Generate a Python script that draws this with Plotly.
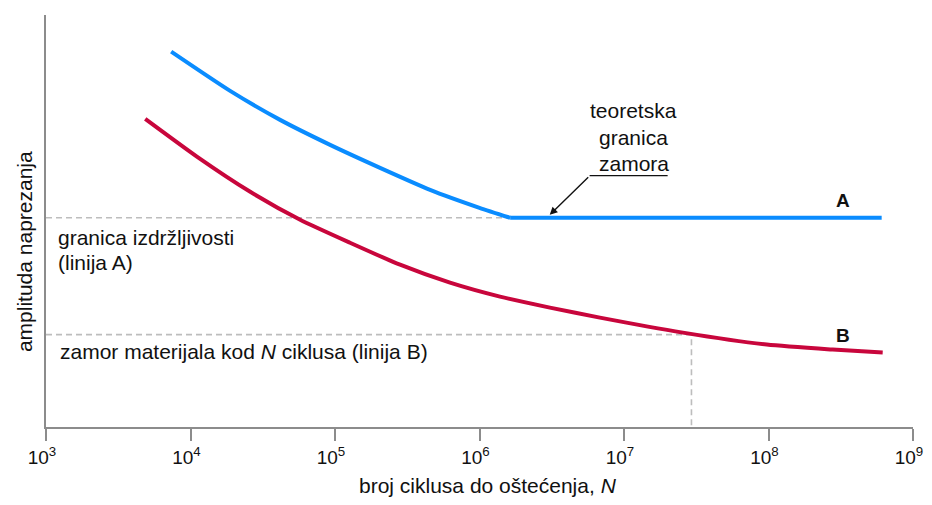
import plotly.graph_objects as go

# Line A (blue): S-N curve with endurance limit (knee at index 7)
blue_N = [7.35e3, 1.88e4, 4.17e4, 9.25e4, 2.05e5, 4.55e5, 1.0e6, 1.63e6, 6.07e8]
blue_amp = [375.8, 336.5, 307.5, 282.5, 259.5, 237.5, 219.5, 209.5, 209.5]

# Line B (red): S-N curve without endurance limit
red_N = [4.86e3, 1.113e4, 2.59e4, 5.74e4, 1.27e5, 2.82e5, 6.25e5, 1.386e6, 3.07e6,
         6.81e6, 2.555e7, 9.73e7, 2.78e8, 6.17e8]
red_amp = [308.5, 270.5, 235.5, 207.5, 184.5, 162.5, 144.5, 130.5, 119.5,
           109.5, 94.5, 82.5, 77.5, 74.5]

endurance_limit = 209.5
knee_N = 1.63e6
fatigue_strength_B = 92.5
N_B = 2.93e7

tick_vals = [1e3, 1e4, 1e5, 1e6, 1e7, 1e8, 1e9]
tick_text = ["10<sup>3</sup>", "10<sup>4</sup>", "10<sup>5</sup>", "10<sup>6</sup>",
             "10<sup>7</sup>", "10<sup>8</sup>", "10<sup>9</sup>"]

BLUE = "#0A8CFF"
RED = "#C8063C"
GRAY = "#BDBDBD"
AXIS = "#8C8C8C"
TXT = "#111111"
FONT = "Liberation Sans, Arial, sans-serif"
FS = 21

fig = go.Figure()

# dashed reference lines
fig.add_trace(go.Scatter(x=[1e3, knee_N], y=[endurance_limit, endurance_limit],
                         mode="lines", line=dict(color=GRAY, width=1.6, dash="6px,4px"),
                         hoverinfo="skip", showlegend=False))
fig.add_trace(go.Scatter(x=[1e3, N_B, N_B], y=[fatigue_strength_B, fatigue_strength_B, 0],
                         mode="lines", line=dict(color=GRAY, width=1.6, dash="6px,4px"),
                         hoverinfo="skip", showlegend=False))

# curves
fig.add_trace(go.Scatter(x=blue_N[:8], y=blue_amp[:8], mode="lines",
                         line=dict(color=BLUE, width=4, shape="spline", smoothing=0.6),
                         showlegend=False))
fig.add_trace(go.Scatter(x=blue_N[7:], y=blue_amp[7:], mode="lines",
                         line=dict(color=BLUE, width=4), showlegend=False))
fig.add_trace(go.Scatter(x=red_N, y=red_amp, mode="lines",
                         line=dict(color=RED, width=4, shape="spline", smoothing=0.6),
                         showlegend=False))


def txt(x, y, text, xanchor="center", size=FS, angle=0):
    return dict(x=x, y=y, xref="paper", yref="paper", text=text, showarrow=False,
                font=dict(size=size, color=TXT, family=FONT), xanchor=xanchor,
                yanchor="middle", textangle=angle)


annotations = [
    txt(0.678, 0.767, "teoretska"),
    txt(0.678, 0.703, "granica"),
    txt(0.678, 0.639, "zamora"),
    txt(0.919, 0.549, "<b>A</b>", size=19),
    txt(0.919, 0.222, "<b>B</b>", size=19),
    txt(0.011, 0.459, "granica izdržljivosti", xanchor="left"),
    txt(0.011, 0.399, "(linija A)", xanchor="left"),
    txt(0.014, 0.183, "zamor materijala kod <i>N</i> ciklusa (linija B)", xanchor="left"),
    txt(0.51, -0.143, "broj ciklusa do oštećenja, <i>N</i>"),
    txt(-0.024, 0.425, "amplituda naprezanja", angle=-90),
    # arrow
    dict(x=0.581, y=0.515, xref="paper", yref="paper", ax=40, ay=-39,
         text="", showarrow=True, arrowhead=2, arrowsize=1.1, arrowwidth=1.4,
         arrowcolor=TXT),
]

# page body has an 8px margin: figure is placed at (8, 8)
fig.update_layout(
    width=924, height=489,
    margin=dict(l=38, r=19, t=7, b=69.5),
    paper_bgcolor="white", plot_bgcolor="white",
    font=dict(family=FONT, size=FS, color=TXT),
    annotations=annotations,
    shapes=[dict(type="line", xref="paper", yref="paper", x0=0.627, x1=0.717,
                 y0=0.610, y1=0.610, line=dict(color=TXT, width=1.3))],
    xaxis=dict(type="log", range=[3, 9], tickvals=tick_vals, ticktext=tick_text,
               showgrid=False, zeroline=False, showline=True, linecolor=AXIS,
               linewidth=1.5, ticks="outside", ticklen=12, tickcolor=AXIS,
               tickwidth=1.5, tickfont=dict(size=19, color=TXT), automargin=False,
               ticklabeloverflow="allow", ticklabelshift=-4),
    yaxis=dict(range=[0, 412.5], showgrid=False, zeroline=False, showline=True,
               linecolor=AXIS, linewidth=1.5, showticklabels=False, ticks="",
               automargin=False),
)

fig.write_html("out.html")
